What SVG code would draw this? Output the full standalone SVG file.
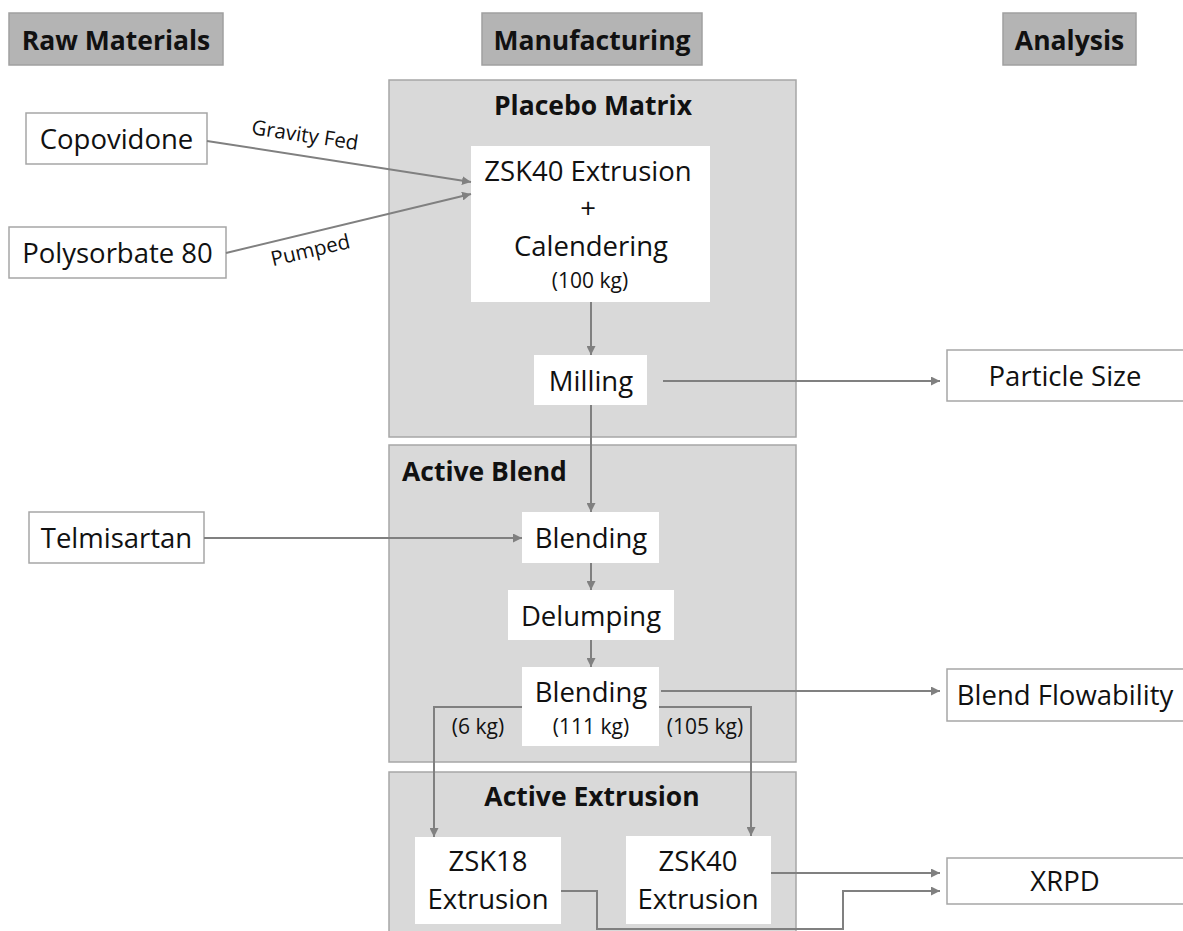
<svg xmlns="http://www.w3.org/2000/svg" width="1183" height="931" viewBox="0 0 1183 931">
  <defs>
    <marker id="arrow" viewBox="0 0 10 10" refX="10" refY="5" markerWidth="4.5" markerHeight="4.5" orient="auto" markerUnits="strokeWidth">
      <path d="M0,0 L10,5 L0,10 z" fill="#808080"/>
    </marker>
    <style>
      text { font-family: "Open Sans", "Noto Sans", "Liberation Sans", sans-serif; fill: #111; }
      .hdr rect { fill: #b4b4b4; stroke: #a0a0a0; stroke-width: 1.5; }
      .hdr text { font-weight: bold; font-size: 26.5px; text-anchor: middle; }
      .panel { fill: #d9d9d9; stroke: #a6a6a6; stroke-width: 1.5; }
      .ptitle { font-weight: bold; font-size: 26.5px; }
      .box { fill: #ffffff; stroke: #a6a6a6; stroke-width: 1.5; }
      .step { fill: #ffffff; stroke: none; }
      .lbl { font-size: 27.5px; text-anchor: middle; }
      .small { font-size: 21px; text-anchor: middle; }
      .tilt { font-size: 20.5px; text-anchor: middle; }
      .edge { fill: none; stroke: #808080; stroke-width: 2; marker-end: url(#arrow); }
    </style>
  </defs>

  <!-- column headings -->
  <g id="hdr-raw" class="hdr">
    <rect x="9" y="13" width="214" height="52"/>
    <text x="116" y="50">Raw Materials</text>
  </g>
  <g id="hdr-mfg" class="hdr">
    <rect x="482" y="13" width="220" height="52"/>
    <text x="592" y="50">Manufacturing</text>
  </g>
  <g id="hdr-analysis" class="hdr">
    <rect x="1003" y="13" width="133" height="52"/>
    <text x="1069.5" y="50">Analysis</text>
  </g>

  <!-- process stage panels -->
  <g id="stage-placebo">
    <rect class="panel" x="389" y="80" width="407" height="357"/>
    <text class="ptitle" x="593" y="115" text-anchor="middle">Placebo Matrix</text>
  </g>
  <g id="stage-blend">
    <rect class="panel" x="389" y="445" width="407" height="317"/>
    <text class="ptitle" x="402" y="481">Active Blend</text>
  </g>
  <g id="stage-extrusion">
    <rect class="panel" x="389" y="772" width="407" height="170"/>
    <text class="ptitle" x="592" y="806" text-anchor="middle">Active Extrusion</text>
  </g>

  <!-- raw materials -->
  <g id="copovidone">
    <rect class="box" x="26" y="113" width="181" height="51"/>
    <text class="lbl" x="116.5" y="149">Copovidone</text>
  </g>
  <g id="polysorbate">
    <rect class="box" x="9" y="227" width="217" height="51"/>
    <text class="lbl" x="117.5" y="263">Polysorbate 80</text>
  </g>
  <g id="telmisartan">
    <rect class="box" x="29" y="512" width="175" height="51"/>
    <text class="lbl" x="116.5" y="548">Telmisartan</text>
  </g>

  <!-- manufacturing steps -->
  <g id="zsk40-calendering">
    <rect class="step" x="471" y="146" width="239" height="156"/>
    <text class="lbl" x="588" y="181">ZSK40 Extrusion</text>
    <text class="lbl" x="588" y="218">+</text>
    <text class="lbl" x="591" y="256">Calendering</text>
    <text class="small" x="590" y="288">(100 kg)</text>
  </g>
  <g id="milling">
    <rect class="step" x="534" y="355" width="113" height="50"/>
    <text class="lbl" x="591" y="391">Milling</text>
  </g>
  <g id="blending-1">
    <rect class="step" x="522" y="512" width="137" height="51"/>
    <text class="lbl" x="591" y="548">Blending</text>
  </g>
  <g id="delumping">
    <rect class="step" x="508" y="590" width="166" height="50"/>
    <text class="lbl" x="591" y="626">Delumping</text>
  </g>
  <g id="blending-2">
    <rect class="step" x="522" y="667" width="137" height="79"/>
    <text class="lbl" x="591" y="702">Blending</text>
    <text class="small" x="591" y="734">(111 kg)</text>
  </g>
  <g id="zsk18">
    <rect class="step" x="415" y="837" width="146" height="87"/>
    <text class="lbl" x="488" y="871">ZSK18</text>
    <text class="lbl" x="488" y="909">Extrusion</text>
  </g>
  <g id="zsk40">
    <rect class="step" x="626" y="836" width="145" height="88"/>
    <text class="lbl" x="698" y="871">ZSK40</text>
    <text class="lbl" x="698" y="909">Extrusion</text>
  </g>

  <!-- analyses -->
  <g id="particle-size">
    <rect class="box" x="947" y="350" width="240" height="51"/>
    <text class="lbl" x="1065" y="386">Particle Size</text>
  </g>
  <g id="blend-flowability">
    <rect class="box" x="947" y="669" width="240" height="52"/>
    <text class="lbl" x="1065" y="705">Blend Flowability</text>
  </g>
  <g id="xrpd">
    <rect class="box" x="947" y="858" width="240" height="46"/>
    <text class="lbl" x="1065" y="891">XRPD</text>
  </g>

  <!-- connectors -->
  <g id="connectors">
    <path class="edge" d="M207,141 L471,182"/>
    <path class="edge" d="M226,253 L471,194"/>
    <path class="edge" d="M591,302 L591,355"/>
    <path class="edge" d="M663,381 L940,381"/>
    <path class="edge" d="M591,405 L591,512"/>
    <path class="edge" d="M204,538 L522,538"/>
    <path class="edge" d="M591,563 L591,590"/>
    <path class="edge" d="M591,640 L591,667"/>
    <path class="edge" d="M661,691 L940,691"/>
    <path class="edge" d="M522,707 L434,707 L434,837"/>
    <path class="edge" d="M659,707 L751,707 L751,836"/>
    <path class="edge" d="M771,873 L940,873"/>
    <path class="edge" d="M561,891 L597,891 L597,929 L843,929 L843,891 L940,891"/>
    <text class="small" x="478" y="734">(6 kg)</text>
    <text class="small" x="705" y="734">(105 kg)</text>
    <text class="tilt" transform="translate(304,142) rotate(8.6)">Gravity Fed</text>
    <text class="tilt" transform="translate(312,257) rotate(-13.3)">Pumped</text>
  </g>
</svg>
